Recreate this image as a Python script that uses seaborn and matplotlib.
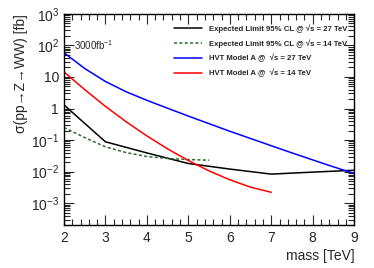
import numpy as np
import pandas as pd
import matplotlib
matplotlib.use("Agg")
import matplotlib.pyplot as plt
import matplotlib.ticker as mticker
import seaborn as sns

sns.set_style("ticks")
plt.rcParams['font.family'] = ['Liberation Sans', 'DejaVu Sans']
plt.rcParams['mathtext.default'] = 'regular'

# expected limit, sqrt(s) = 27 TeV
mass_exp27 = [2, 3, 4, 5, 6, 7, 8, 9]
xs_exp27 = [1.3, 0.088, 0.039, 0.018, 0.012, 0.0083, 0.0096, 0.011]

# expected limit, sqrt(s) = 14 TeV
mass_exp14 = [2, 2.5, 3, 3.5, 4, 4.5, 5, 5.5]
xs_exp14 = [0.25, 0.12, 0.061, 0.040, 0.030, 0.026, 0.024, 0.023]

# HVT model A, 27 TeV
mass_hvt27 = [2, 2.5, 3, 3.5, 4, 4.5, 5, 5.5, 6, 6.5, 7, 7.5, 8, 8.5, 9]
xs_hvt27 = [59, 18.6, 7.2, 3.4, 1.82, 1.02, 0.575, 0.33, 0.19, 0.112, 0.066,
            0.039, 0.0234, 0.0141, 0.0087]

# HVT model A, 14 TeV
mass_hvt14 = [2, 2.5, 3, 3.5, 4, 4.5, 5, 5.5, 6, 6.5, 7]
xs_hvt14 = [14.5, 3.98, 1.17, 0.38, 0.135, 0.0525, 0.0224, 0.0105, 0.0055,
            0.0032, 0.0022]

labels = ["Expected Limit 95% CL @ \u221as = 27 TeV",
          "Expected Limit 95% CL @ \u221as = 14 TeV",
          "HVT Model A @  \u221as = 27 TeV",
          "HVT Model A @  \u221as = 14 TeV"]

fig = plt.figure(figsize=(3.74, 2.68), dpi=100)
ax = fig.add_axes([0.171, 0.160, 0.776, 0.788])

sns.lineplot(x=mass_exp27, y=xs_exp27, ax=ax, color="black", lw=1.1, label=labels[0])
sns.lineplot(x=mass_exp14, y=xs_exp14, ax=ax, color="#2e6b2e", lw=1.1,
             linestyle=(0, (2, 1.5)), label=labels[1])
sns.lineplot(x=mass_hvt27, y=xs_hvt27, ax=ax, color="blue", lw=1.1, label=labels[2])
sns.lineplot(x=mass_hvt14, y=xs_hvt14, ax=ax, color="red", lw=1.1, label=labels[3])

ax.set_yscale("log")
ax.set_xlim(2, 9)
ax.set_ylim(2e-4, 1e3)

ax.yaxis.set_major_locator(mticker.FixedLocator([1e-3, 1e-2, 1e-1, 1, 10, 1e2, 1e3]))
ax.yaxis.set_major_formatter(mticker.FixedFormatter(
    [r"$10^{-3}$", r"$10^{-2}$", r"$10^{-1}$", "1", "10", r"$10^{2}$", r"$10^{3}$"]))
ax.yaxis.set_minor_locator(mticker.LogLocator(base=10, subs=np.arange(2, 10)))
ax.yaxis.set_minor_formatter(mticker.NullFormatter())
ax.xaxis.set_major_locator(mticker.MultipleLocator(1))
ax.xaxis.set_minor_locator(mticker.MultipleLocator(0.2))

ax.tick_params(which="both", direction="in", top=True, right=True, width=0.8, labelsize=10)
ax.tick_params(which="major", length=7)
ax.tick_params(which="minor", length=4)
ax.tick_params(axis="x", pad=4)
for sp in ax.spines.values():
    sp.set_linewidth(1.0)
    sp.set_color("black")

ax.set_xlabel("mass [TeV]", fontsize=10, loc="right", labelpad=3)
ax.set_ylabel("\u03c3(pp\u2192Z\u2192WW) [fb]", fontsize=10, loc="top", labelpad=2)

ax.text(0.035, 0.853, r"3000fb$^{-1}$", transform=ax.transAxes, fontsize=7, va="center")

leg = ax.legend(loc="upper right", bbox_to_anchor=(0.975, 0.95), frameon=False,
                prop={"size": 5.6, "weight": "bold"}, handlelength=3.6,
                labelspacing=0.8, borderaxespad=0.0, handletextpad=0.9,
                borderpad=0.0)

fig.savefig("out.png", dpi=100)
